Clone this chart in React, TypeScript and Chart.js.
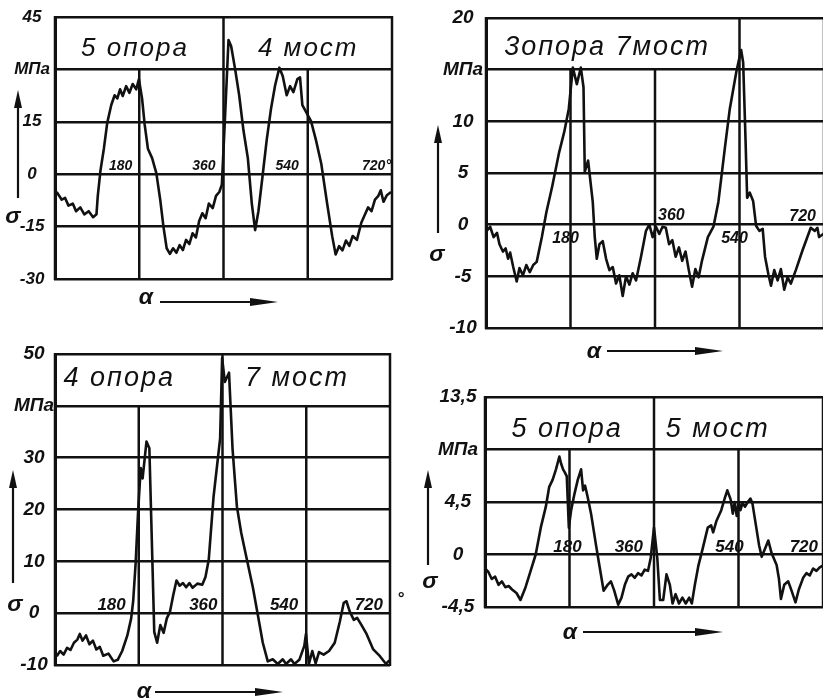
import React, { useEffect, useRef } from 'react';
import { Chart, registerables } from 'chart.js';

Chart.register(...registerables);

// ---------------- data ----------------
// Panel 1: 5 опора / 4 мост  (angle α in degrees, stress σ in MPa)
const p1Angles = [3.6, 14.4, 21.6, 28.8, 38, 45, 54, 62.6, 72, 81.4,
  88.6, 91.4, 97.2, 104.4, 111.6, 120.2, 127.4, 133.2, 139, 144.7,
  152, 159, 166, 173.5, 179.3, 186, 191.5, 198.5, 207.5, 216.5,
  224.8, 231.7, 238.6, 245.5, 252.4, 259.4, 266.3, 273.2, 280, 287,
  294, 301, 308, 314.8, 321.8, 328.7, 337, 344, 351, 356.5,
  363.5, 370.7, 376.4, 384.9, 393.5, 402.7, 412, 420.5, 427.6, 434.6,
  443.2, 452.4, 461.7, 470.2, 479.4, 486.5, 495, 502.2, 509.3, 517.8,
  523.5, 528.5, 537.8, 547, 557.3, 569, 581.4, 592.3, 599.6, 606.9,
  614.2, 621.5, 628.8, 636, 645, 654.4, 661.7, 669, 676.3, 683.6,
  690.9, 696, 701.8, 709.1, 717.9];
const p1Stress = [-5.1, -7.3, -6.8, -9.0, -8.4, -10.6, -9.5, -11.5, -10.6, -12.3,
  -11.5, -6.2, 1.1, 7.3, 14.7, 19.8, 22.6, 21.7, 24.3, 22.4,
  25.2, 23.3, 25.8, 24.3, 27.2, 21.7, 14.3, 7.3, 4.6, 0.3,
  -7.3, -15, -21.2, -22.8, -21.2, -22.5, -20.3, -21.7, -18.8, -20,
  -16.9, -18.1, -13.4, -11.2, -12.6, -8.4, -9.7, -6.2, -5.1, -3,
  17, 38.4, 36.6, 30, 22.6, 12.5, 4.6, -8.4, -16, -10.6,
  -0.8, 9.9, 18.9, 25.4, 30.5, 28.1, 22.6, 25.2, 23.5, 27.2,
  27.7, 19.8, 17.5, 15.2, 9.9, 2.9, -8.4, -17.8, -23, -20.6,
  -21.8, -19, -20.5, -17.7, -18.8, -13.9, -11.7, -9.5, -10.6, -7.3,
  -6.2, -4.6, -7.9, -6, -5.1];
const p1YTicks = [-30, -15, 0, 15, 30, 45];
const p1YLabels = ['-30', '-15', '0', '15', 'МПа', '45'];
const p1Titles = ['5 опора', '4 мост'];
const p1XLabels = ['180', '360', '540', '720°'];
const p1XLabelAngles = [180, 360, 540, 720];

// Panel 2: 3 опора 7 мост
const p2Angles = [1.5, 8.8, 16.2, 23.5, 28.7, 36, 41.9, 47, 51.4, 58,
  65.4, 71.3, 78.6, 86, 93.3, 100.6, 108, 119, 128.6, 141,
  155.8, 166.8, 176.3, 185, 193.5, 202, 207.7, 210.4, 217.5, 227.4,
  231.7, 236, 241.6, 248.7, 255.8, 262.9, 270, 277, 284, 291.2,
  298.3, 305.4, 312.5, 319.6, 330.2, 340.8, 347.9, 355, 362.1, 369.1,
  376, 383, 390, 397, 404, 411, 418, 425, 432, 439,
  446, 453, 460, 472.6, 484.5, 495, 508.8, 519.3, 533.3, 543.5,
  547.8, 552.8, 556.3, 561.9, 569, 575.3, 582.4, 589.4, 594.4, 601.5,
  607.1, 614.1, 621.2, 628.2, 635.3, 642.4, 649.4, 660, 674.1, 691.8,
  700.3, 705.9, 709.5, 718.6, 723.5];
const p2Stress = [-0.6, -0.2, -1.2, -0.8, -1.9, -2.6, -2.3, -3.3, -2.7, -4.1,
  -5.5, -4.2, -4.9, -3.9, -4.6, -3.9, -3.6, -1.2, 1.2, 3.7,
  7, 9, 11.2, 15.2, 13.6, 15.2, 13.3, 5.1, 6.2, 2.2,
  -1.2, -3.3, -1.9, -1.6, -3.3, -4.4, -4.1, -5.7, -4.9, -6.9,
  -5, -5.8, -4.7, -5.4, -3.1, -0.6, 0, -1.2, -0.2, -0.9,
  -0.2, -0.3, -1.9, -1.5, -3.1, -2.2, -3.5, -2.6, -4.4, -6,
  -4.3, -5.1, -3.5, -1.2, -0.2, 2.2, 7.4, 11.2, 14.8, 16.9,
  15.7, 8.3, 2.6, 3.1, 2.3, -0.1, -0.6, -0.4, -3.1, -4.8,
  -5.9, -4.4, -5.4, -4.3, -6.3, -5.1, -5.7, -4.4, -2.5, -0.3,
  -0.6, -0.3, -1.2, -0.9, -0.6];
const p2YTicks = [-10, -5, 0, 5, 10, 15, 20];
const p2YLabels = ['-10', '-5', '0', '5', '10', 'МПа', '20'];
const p2Titles = ['3опора 7мост'];
const p2XLabels = ['180', '360', '540', '720'];
const p2XLabelAngles = [180, 360, 540, 720];

// Panel 3: 4 опора / 7 мост
const p3Angles = [3.7, 11.1, 18.5, 25.9, 33.3, 40.7, 48.1, 53.3, 59.3, 66.7,
  74, 81.5, 88.9, 96.3, 103.7, 114.8, 126, 134.8, 144.4, 155.5,
  163.7, 168, 173.3, 178.5, 184.2, 188.3, 196.6, 202.8, 209, 213.3,
  219.5, 226.4, 233.4, 240.3, 247.2, 254.2, 261.1, 268, 275, 281.9,
  288.8, 295.7, 306.1, 316.5, 323.4, 330.4, 340.8, 354.9, 359.2, 365,
  374, 381.6, 390.9, 400.2, 410.9, 425.2, 435.9, 446.6, 457.3, 468,
  478.8, 489.5, 496.6, 507.3, 514.4, 525.1, 535.8, 539.4, 545.8, 553,
  560.2, 567.4, 577.4, 589, 601.2, 612, 620.6, 626.4, 633.6, 642.2,
  649.4, 658.8, 669.6, 684, 698.4, 711.4, 718.6];
const p3Stress = [-8.3, -7.3, -8, -6.7, -7.1, -5.7, -5.1, -4, -5.3, -4.3,
  -6, -5.3, -7, -6.5, -8.2, -7.8, -9.3, -9, -7.3, -4.3,
  -1, 2.3, 9.6, 19.4, 28, 26, 33.1, 31.8, 11, -3.6,
  -5.7, -2.3, -3.8, -1, 0.3, 3.5, 6.3, 5.3, 5.8, 5,
  5.8, 4.9, 5.7, 5.5, 7, 10.3, 22.5, 33.7, 49.2, 44.6,
  46.4, 31.7, 20.6, 15.5, 11, 5, -0.3, -5.7, -9.3, -8.9,
  -9.8, -8.9, -9.8, -8.9, -9.8, -9, -6.3, -4, -9.8, -7.3,
  -9.7, -7.5, -8, -7.3, -5.7, -1.7, 2, 2.3, 0.3, -1.3,
  -0.9, -2.3, -4, -7, -8.3, -9.8, -9.1];
const p3YTicks = [-10, 0, 10, 20, 30, 40, 50];
const p3YLabels = ['-10', '0', '10', '20', '30', 'МПа', '50'];
const p3Titles = ['4 опора', '7 мост'];
const p3XLabels = ['180', '360', '540', '720', '°'];
const p3XLabelAngles = [180, 360, 540, 720, 720];

// Panel 4: 5 опора / 5 мост
const p4Angles = [0, 7.2, 14.4, 21.6, 28.8, 36, 43.2, 50.4, 57.6, 67,
  75.6, 86.4, 97.2, 108, 118.8, 129.6, 136.8, 144, 151.2, 158.4,
  162, 166.3, 170.6, 174.2, 178.6, 183.5, 190.6, 197.6, 204.7, 209,
  213.2, 218.8, 225.9, 236.5, 243.5, 252.7, 261.2, 268.2, 275.3, 283.7,
  290.8, 297.9, 304.9, 312, 319, 326, 333.2, 340.2, 347.3, 353,
  360, 367, 372.6, 379.6, 386.6, 393.8, 399.5, 406, 413.2, 420.5,
  427.7, 435, 440.6, 447, 454.3, 463.7, 474.5, 481.7, 486, 493.2,
  503.3, 510.5, 516.2, 523.4, 527.8, 532, 536.2, 540.7, 544.2, 548.5,
  554, 559.8, 565.4, 569.6, 576.7, 583.8, 589.4, 596.5, 603.5, 610.6,
  621.2, 626.2, 630.4, 637.4, 645.9, 653, 661.4, 668.5, 677.7, 684.7,
  691.8, 698.9, 706, 713, 722.2];
const p4Stress = [-1.2, -1.5, -2.1, -1.9, -2.6, -2.3, -2.8, -2.7, -3, -3.3,
  -3.9, -2.8, -1.4, 0, 2.3, 4.1, 5.8, 6.4, 7.3, 8.4,
  7.8, 7.3, 7, 6.7, 2.3, 3.8, 5.2, 6.4, 7.3, 5.5,
  5.9, 4.9, 3.5, 0.8, -0.9, -3.1, -2.6, -2.3, -3.1, -4.3,
  -3.7, -2.6, -1.9, -1.7, -2, -1.6, -1.8, -1.3, -1.4, -0.3,
  2.3, -0.3, -3.9, -3.9, -1.7, -2.6, -4.2, -3.4, -4.2, -3.7,
  -4.2, -3.7, -4.2, -2.6, -1, 0.5, 2.3, 2.5, 1.9, 2.9,
  3.8, 4.8, 5.5, 4.7, 3.5, 4.5, 3.3, 4.5, 3.8, 4.4,
  4.1, 4.5, 4.8, 4.4, 2.6, 0.8, -0.2, 0.5, 1.2, 0.1,
  -0.9, -2.1, -3.8, -2.6, -2.3, -3.1, -4.1, -3, -2, -1.6,
  -1.8, -1.2, -1.4, -1.1, -0.9];
const p4YTicks = [-4.5, 0, 4.5, 9, 13.5];
const p4YLabels = ['-4,5', '0', '4,5', 'МПа', '13,5'];
const p4Titles = ['5 опора', '5 мост'];
const p4XLabels = ['180', '360', '540', '720'];
const p4XLabelAngles = [180, 360, 540, 720];

const sigmaLabel = 'σ';
const alphaLabel = 'α';

// ---------------- styles / layout ----------------
const CANVAS_W = 900;
const CANVAS_H = 698;
const INK = '#111';
const FACE = '"Liberation Sans", Arial, sans-serif';
const Y_AXIS_W = 50;

type LabelStyle = { align: CanvasTextAlign; dx: number; dy: number };

interface Panel {
  id: string;
  angles: number[];
  stress: number[];
  yTicks: number[];
  yLabels: string[];
  titles: string[];
  xLabels: string[];
  xLabelAngles: number[];
  box: { l: number; t: number; r: number; b: number };
  band: number;
  fullLines: number[];
  partialLines: number[];
  titleAt: number[];
  titleUp: number;
  titleSize: number;
  tickSize: number;
  tickPad: number;
  xLabelSize: number;
  xLabelStyles: LabelStyle[];
  sigmaArrow: { x: number; tip: number; tail: number; tx: number; ty: number };
  alphaArrow: { tx: number; ty: number; x1: number; x2: number; y: number };
}

const panels: Panel[] = [
  {
    id: 'p1', angles: p1Angles, stress: p1Stress, yTicks: p1YTicks, yLabels: p1YLabels,
    titles: p1Titles, xLabels: p1XLabels, xLabelAngles: p1XLabelAngles,
    box: { l: 55, t: 17, r: 392, b: 279 }, band: 30,
    fullLines: [0, 360, 720], partialLines: [180, 540],
    titleAt: [171, 541], titleUp: 13, titleSize: 26, tickSize: 17, tickPad: 5, xLabelSize: 14,
    xLabelStyles: [
      { align: 'right', dx: -7, dy: -4 }, { align: 'right', dx: -8, dy: -4 },
      { align: 'right', dx: -9, dy: -4 }, { align: 'right', dx: -1, dy: -4 }],
    sigmaArrow: { x: -37, tip: 73, tail: 181, tx: -42, ty: 200 },
    alphaArrow: { tx: 91, ty: 19, x1: 105, x2: 223, y: 23 },
  },
  {
    id: 'p2', angles: p2Angles, stress: p2Stress, yTicks: p2YTicks, yLabels: p2YLabels,
    titles: p2Titles, xLabels: p2XLabels, xLabelAngles: p2XLabelAngles,
    box: { l: 486, t: 18, r: 824, b: 328 }, band: 15,
    fullLines: [0, 540, 720], partialLines: [180, 360],
    titleAt: [258], titleUp: 15, titleSize: 27, tickSize: 19, tickPad: 3, xLabelSize: 16,
    xLabelStyles: [
      { align: 'center', dx: -5, dy: 18 }, { align: 'left', dx: 3, dy: -5 },
      { align: 'center', dx: -5, dy: 18 }, { align: 'right', dx: -8, dy: -4 }],
    sigmaArrow: { x: -48, tip: 107, tail: 215, tx: -49, ty: 237 },
    alphaArrow: { tx: 108, ty: 24, x1: 121, x2: 237, y: 23 },
  },
  {
    id: 'p3', angles: p3Angles, stress: p3Stress, yTicks: p3YTicks, yLabels: p3YLabels,
    titles: p3Titles, xLabels: p3XLabels, xLabelAngles: p3XLabelAngles,
    box: { l: 55, t: 354, r: 390, b: 665 }, band: 40,
    fullLines: [0, 360, 720], partialLines: [180, 540],
    titleAt: [138, 520], titleUp: 20, titleSize: 27, tickSize: 19, tickPad: 1, xLabelSize: 17,
    xLabelStyles: [
      { align: 'right', dx: -13, dy: -3 }, { align: 'right', dx: -5, dy: -3 },
      { align: 'right', dx: -8, dy: -3 }, { align: 'right', dx: -7, dy: -3 },
      { align: 'left', dx: 7, dy: -9 }],
    sigmaArrow: { x: -42, tip: 116, tail: 229, tx: -40, ty: 251 },
    alphaArrow: { tx: 89, ty: 27, x1: 100, x2: 228, y: 27 },
  },
  {
    id: 'p4', angles: p4Angles, stress: p4Stress, yTicks: p4YTicks, yLabels: p4YLabels,
    titles: p4Titles, xLabels: p4XLabels, xLabelAngles: p4XLabelAngles,
    box: { l: 485, t: 397, r: 823, b: 607 }, band: 9,
    fullLines: [0, 360, 720], partialLines: [180, 540],
    titleAt: [175, 496], titleUp: 13, titleSize: 27, tickSize: 19, tickPad: 7, xLabelSize: 17,
    xLabelStyles: [
      { align: 'center', dx: -2, dy: -3 }, { align: 'right', dx: -11, dy: -3 },
      { align: 'center', dx: -9, dy: -3 }, { align: 'right', dx: -5, dy: -3 }],
    sigmaArrow: { x: -57, tip: 73, tail: 168, tx: -55, ty: 185 },
    alphaArrow: { tx: 85, ty: 26, x1: 98, x2: 238, y: 25 },
  },
];

function line(ctx: CanvasRenderingContext2D, x1: number, y1: number, x2: number, y2: number) {
  ctx.beginPath();
  ctx.moveTo(x1, y1);
  ctx.lineTo(x2, y2);
  ctx.stroke();
}

function makeDecor(p: Panel) {
  return {
    id: 'decor_' + p.id,
    beforeDatasetsDraw(chart: any) {
      const { ctx, chartArea: ca, scales } = chart;
      const xs = scales.x;
      const ys = scales.y;
      ctx.save();
      ctx.strokeStyle = INK;
      ctx.lineWidth = 2.5;
      const bandY = ys.getPixelForValue(p.band);
      p.fullLines.forEach((v) => {
        const px = xs.getPixelForValue(v);
        line(ctx, px, ca.top - 1, px, ca.bottom + 1);
      });
      p.partialLines.forEach((v) => {
        const px = xs.getPixelForValue(v);
        line(ctx, px, bandY, px, ca.bottom);
      });
      ctx.restore();
    },
    afterDraw(chart: any) {
      const { ctx, chartArea: ca, scales } = chart;
      const xs = scales.x;
      const ys = scales.y;
      ctx.save();
      ctx.fillStyle = INK;
      ctx.strokeStyle = INK;

      // titles in the top band
      const bandY = ys.getPixelForValue(p.band);
      ctx.font = `italic ${p.titleSize}px ${FACE}`;
      (ctx as any).letterSpacing = '2px';
      ctx.textAlign = 'center';
      ctx.textBaseline = 'alphabetic';
      p.titles.forEach((t, i) => {
        ctx.fillText(t, xs.getPixelForValue(p.titleAt[i]), bandY - p.titleUp);
      });
      (ctx as any).letterSpacing = '0px';

      // angle labels along the zero line
      const y0 = ys.getPixelForValue(0);
      ctx.font = `bold italic ${p.xLabelSize}px ${FACE}`;
      p.xLabels.forEach((t, i) => {
        const st = p.xLabelStyles[i];
        ctx.textAlign = st.align;
        ctx.fillText(t, xs.getPixelForValue(p.xLabelAngles[i]) + st.dx, y0 + st.dy);
      });

      // σ arrow
      const sa = p.sigmaArrow;
      const ax = ca.left + sa.x;
      ctx.lineWidth = 2.2;
      line(ctx, ax, ca.top + sa.tail, ax, ca.top + sa.tip + 10);
      ctx.beginPath();
      ctx.moveTo(ax, ca.top + sa.tip);
      ctx.lineTo(ax - 4, ca.top + sa.tip + 18);
      ctx.lineTo(ax + 4, ca.top + sa.tip + 18);
      ctx.closePath();
      ctx.fill();
      ctx.font = `bold italic 23px ${FACE}`;
      ctx.textAlign = 'center';
      ctx.textBaseline = 'middle';
      ctx.fillText(sigmaLabel, ca.left + sa.tx, ca.top + sa.ty);

      // α arrow
      const aa = p.alphaArrow;
      ctx.fillText(alphaLabel, ca.left + aa.tx, ca.bottom + aa.ty);
      const yy = ca.bottom + aa.y;
      line(ctx, ca.left + aa.x1, yy, ca.left + aa.x2 - 20, yy);
      ctx.beginPath();
      ctx.moveTo(ca.left + aa.x2, yy);
      ctx.lineTo(ca.left + aa.x2 - 28, yy - 4);
      ctx.lineTo(ca.left + aa.x2 - 28, yy + 4);
      ctx.closePath();
      ctx.fill();
      ctx.restore();
    },
  };
}

function PanelChart({ p }: { p: Panel }) {
  const ref = useRef<HTMLCanvasElement | null>(null);
  useEffect(() => {
    if (!ref.current) return;
    const points = p.angles.map((a, i) => ({ x: a, y: p.stress[i] }));
    const chart = new Chart(ref.current, {
      type: 'line',
      data: {
        datasets: [{
          data: points,
          borderColor: INK,
          borderWidth: 2.6,
          pointRadius: 0,
          tension: 0,
          fill: false,
          borderJoinStyle: 'round',
        }],
      },
      options: {
        responsive: false,
        animation: false,
        events: [],
        layout: {
          padding: {
            left: p.box.l - Y_AXIS_W,
            top: p.box.t,
            right: CANVAS_W - p.box.r,
            bottom: CANVAS_H - p.box.b,
          },
        },
        plugins: { legend: { display: false }, tooltip: { enabled: false } },
        scales: {
          x: { type: 'linear', min: 0, max: 720, display: false },
          y: {
            type: 'linear',
            min: p.yTicks[0],
            max: p.yTicks[p.yTicks.length - 1],
            afterFit: (scale: any) => { scale.width = Y_AXIS_W; },
            afterBuildTicks: (scale: any) => { scale.ticks = p.yTicks.map((v) => ({ value: v })); },
            grid: { color: INK, lineWidth: 2.5, drawTicks: false },
            border: { display: true, color: INK, width: 3 },
            ticks: {
              color: INK,
              crossAlign: 'center',
              padding: p.tickPad,
              font: { family: FACE, size: p.tickSize, style: 'italic', weight: 'bold' },
              callback: (_v: any, i: number) => p.yLabels[i],
            },
          },
        },
      },
      plugins: [makeDecor(p)],
    } as any);
    return () => chart.destroy();
  }, [p]);
  return (
    <canvas
      ref={ref}
      width={CANVAS_W}
      height={CANVAS_H}
      style={{ position: 'absolute', left: 0, top: 0, width: CANVAS_W, height: CANVAS_H }}
    />
  );
}

export default function App() {
  return (
    <div style={{ position: 'fixed', left: 0, top: 0, width: 823, height: 698, overflow: 'hidden', background: '#fff' }}>
      {panels.map((p) => <PanelChart key={p.id} p={p} />)}
    </div>
  );
}
